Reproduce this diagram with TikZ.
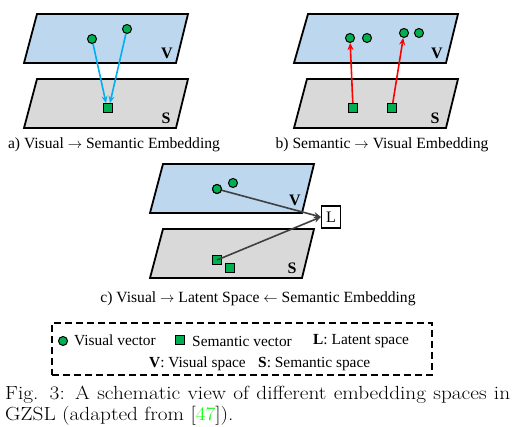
\documentclass[tikz,border=0pt]{standalone}
\usepackage{fontspec}
\setmainfont{Liberation Serif}
\newfontfamily\capfont[FakeStretch=1.12]{Latin Modern Roman}
\usetikzlibrary{arrows.meta}
\definecolor{vblue}{RGB}{189,215,238}
\definecolor{sgray}{RGB}{217,217,217}
\definecolor{dotgreen}{RGB}{0,176,80}
\definecolor{acyan}{RGB}{0,176,240}
\definecolor{agray}{RGB}{64,64,64}
\definecolor{refgreen}{RGB}{0,255,0}
\tikzset{
  vplane/.style={draw=black, line width=1.8pt, fill=vblue, line join=miter},
  splane/.style={draw=black, line width=1.8pt, fill=sgray, line join=miter},
  vdot/.style={circle, draw=black, line width=1pt, fill=dotgreen, inner sep=0pt, minimum size=9pt},
  sbox/.style={rectangle, draw=black, line width=1pt, fill=dotgreen, inner sep=0pt, minimum size=9pt},
  plabel/.style={font=\fontsize{16}{16}\selectfont\bfseries, inner sep=0pt},
  subcap/.style={font=\fontsize{15.6}{17}\selectfont, inner sep=0pt},
  legtext/.style={font=\fontsize{15.4}{16}\selectfont, inner sep=0pt, anchor=west},
  carrow/.style={acyan, line width=1.6pt, -{Stealth[length=7pt,width=6pt]}},
  rarrow/.style={red, line width=1.6pt, -{Stealth[length=7pt,width=6pt]}},
  garrow/.style={agray, line width=1.6pt, -{Stealth[length=7pt,width=6pt]}},
}
\begin{document}
\begin{tikzpicture}[x=1pt,y=-1pt]
\useasboundingbox[fill=white] (0,0) rectangle (515,427);
% ---------- panel a ----------
\draw[vplane] (37,14) -- (188,14) -- (176,63) -- (24,63) -- cycle;
\draw[splane] (37,79) -- (188,79) -- (176,128) -- (24,128) -- cycle;
\node[plabel] (aV) at (167,53) {V};
\node[plabel] (aS) at (166,118) {S};
\node[vdot] (a1) at (92,39) {};
\node[vdot] (a2) at (127,29) {};
\node[sbox] (as) at (108,108) {};
\draw[carrow] (a1) -- ([xshift=-2pt]as.north);
\draw[carrow] (a2) -- ([xshift=2pt]as.north);
\node[subcap] (capa) at (114,145) {a) Visual \(\rightarrow\) Semantic Embedding};
% ---------- panel b ----------
\draw[vplane] (308,14) -- (458,14) -- (446,63) -- (294,63) -- cycle;
\draw[splane] (307,79) -- (458,79) -- (446,128) -- (294,128) -- cycle;
\node[plabel] (bV) at (437,53) {V};
\node[plabel] (bS) at (435,118) {S};
\node[vdot] (b1) at (350,38) {};
\node[vdot] (b2) at (367,38) {};
\node[vdot] (b3) at (404,33) {};
\node[vdot] (b4) at (419,33) {};
\node[sbox] (bs1) at (353,108) {};
\node[sbox] (bs2) at (392,108) {};
\draw[rarrow] (bs1) -- (b1);
\draw[rarrow] (bs2) -- (b3);
\node[subcap] (capb) at (382,145) {b) Semantic \(\rightarrow\) Visual Embedding};
% ---------- panel c ----------
\draw[vplane] (163,164) -- (314,164) -- (302,213) -- (150,213) -- cycle;
\draw[splane] (163,229) -- (314,229) -- (302,278) -- (150,278) -- cycle;
\node[plabel] (cV) at (295,200) {V};
\node[plabel] (cS) at (292,268) {S};
\node[draw=black, line width=1.2pt, fill=white, minimum width=19pt, minimum height=22pt, inner sep=0pt, font=\fontsize{16}{16}\selectfont] (L) at (331,217) {L};
\node[vdot] (c2) at (233,183) {};
\node[sbox] (cs2) at (230,268) {};
\node[sbox] (cs1) at (217,260) {};
\node[vdot] (c1) at (217,189) {};
\draw[garrow] (c1.center) -- (L.west);
\draw[garrow] (cs1.center) -- (L.west);
\node[vdot] at (c1) {};
\node[subcap] (capc) at (258,299) {c) Visual \(\rightarrow\) Latent Space \(\leftarrow\) Semantic Embedding};
% ---------- legend ----------
\node[draw=black, dash pattern=on 7pt off 4pt, line width=1.6pt, minimum width=380pt, minimum height=52pt, inner sep=0pt] (legend) at (242,349) {};
\node[vdot] (lv) at (63,341) {};
\node[legtext] (lvt) at (74,340) {Visual vector};
\node[sbox] (ls) at (180,340) {};
\node[legtext] (lst) at (192,341) {Semantic vector};
\node[legtext] (llt) at (313,341) {\textbf{L}: Latent space};
\node[legtext] (lVt) at (149,364) {\textbf{V}: Visual space};
\node[legtext] (lSt) at (258,364) {\textbf{S}: Semantic space};
% ---------- caption ----------
\node[anchor=north west, inner sep=0pt, text width=505pt, font=\capfont\fontsize{19}{21}\selectfont, align=justify] (figcap) at (5,385.5)
  {Fig. 3: A schematic view of different embedding spaces in\linebreak GZSL (adapted from [{\color{refgreen}47}]).};
\end{tikzpicture}
\end{document}
